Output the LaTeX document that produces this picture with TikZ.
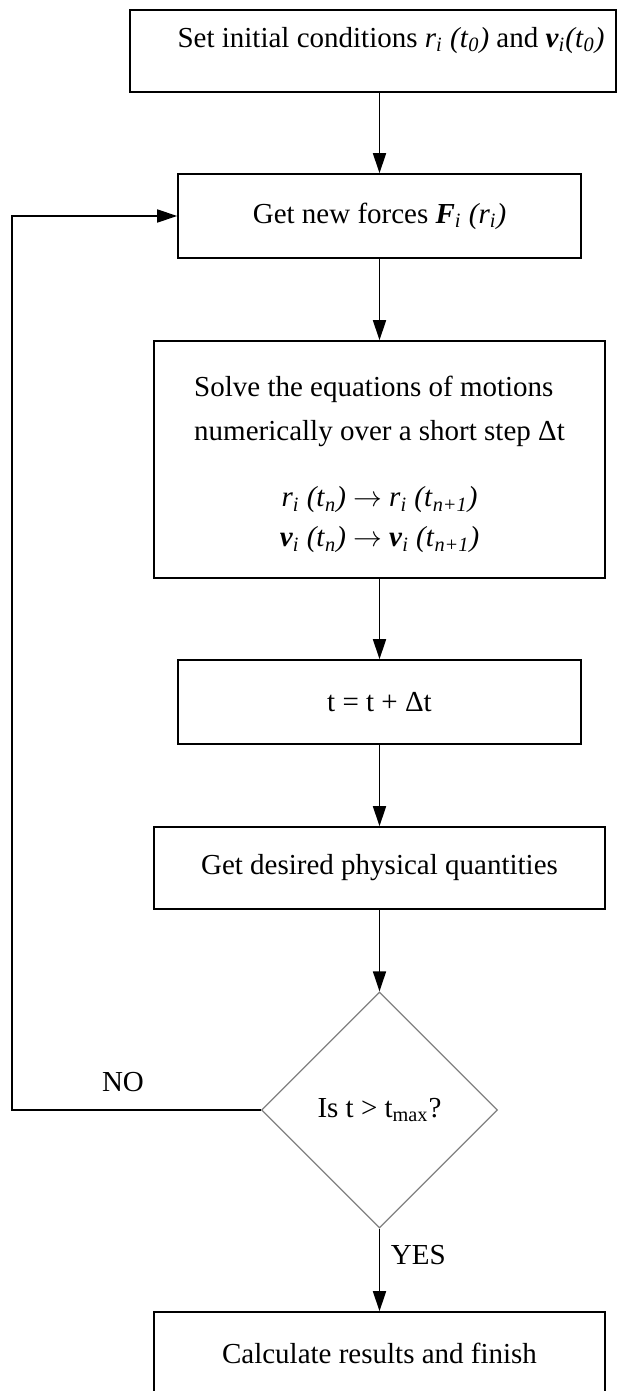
\documentclass[tikz,border=0pt]{standalone}
\usepackage{fontspec}
\setmainfont{Liberation Serif}
\usetikzlibrary{arrows.meta,shapes.geometric}

\newcommand{\bivec}[1]{\textbf{\textit{#1}}}
\newcommand{\isub}[1]{\textsubscript{\textit{#1}}}

\begin{document}
\begin{tikzpicture}[x=0.5pt,y=-0.5pt,
  font=\fontsize{14.5}{22}\selectfont,
  box/.style={draw,line width=0.8pt,inner sep=0pt,align=center},
  test/.style={diamond,draw=gray,line width=0.6pt,inner sep=0pt,
    minimum width=118pt,minimum height=118pt},
  flow/.style={-{Triangle[length=10pt,width=6.5pt]},line width=0.8pt}]
  \useasboundingbox (0,0) rectangle (620,1391);
  % boxes, top to bottom
  \node[box,minimum width=243pt,minimum height=41pt,text depth=14pt] (init) at (373,51)
    {\hspace*{18pt}Set initial conditions \textit{r}\isub{i} \textit{(t}\isub{0}\textit{)} and \bivec{v}\isub{i}\textit{(t}\isub{0}\textit{)}};
  \node[box,minimum width=201.5pt,minimum height=42pt] (forces) at (379.5,216)
    {Get new forces \bivec{F}\isub{i} \textit{(r}\isub{i}\textit{)}};
  \node[box,minimum width=225.5pt,minimum height=118.5pt] (solve) at (379.5,459.5)
    {\begin{tabular}[b]{@{}l@{}}Solve the equations of motions\\numerically over a short step Δt\end{tabular}\\[11pt]
     \textit{r}\isub{i} \textit{(t}\isub{n}\textit{)} $\rightarrow$ \textit{r}\isub{i} \textit{(t}\isub{n+1}\textit{)}\\[-2pt]
     \bivec{v}\isub{i} \textit{(t}\isub{n}\textit{)} $\rightarrow$ \bivec{v}\isub{i} \textit{(t}\isub{n+1}\textit{)}};
  \node[box,minimum width=201.5pt,minimum height=42pt] (tstep) at (379.5,702) {t = t + Δt};
  \node[box,minimum width=225.5pt,minimum height=41pt] (desired) at (379.5,868)
    {Get desired physical quantities};
  \node[test] (check) at (379.5,1110) {Is t > t\textsubscript{max}?};
  \node[box,minimum width=225.5pt,minimum height=41pt] (finish) at (379.5,1353)
    {Calculate results and finish};
  % connectors
  \draw[flow] (init.south -| forces.north) -- (forces.north);
  \draw[flow] (forces) -- (solve);
  \draw[flow] (solve) -- (tstep);
  \draw[flow] (tstep) -- (desired);
  \draw[flow] (desired) -- (check);
  \draw[flow] (check) -- (finish) node[pos=0.32,right=2pt] (yes) {YES};
  \coordinate (back) at (12,1110);
  \draw[flow] (check.west) -- (back) |- (forces.west);
  \node (no) at (123,1082) {NO};
\end{tikzpicture}
\end{document}
